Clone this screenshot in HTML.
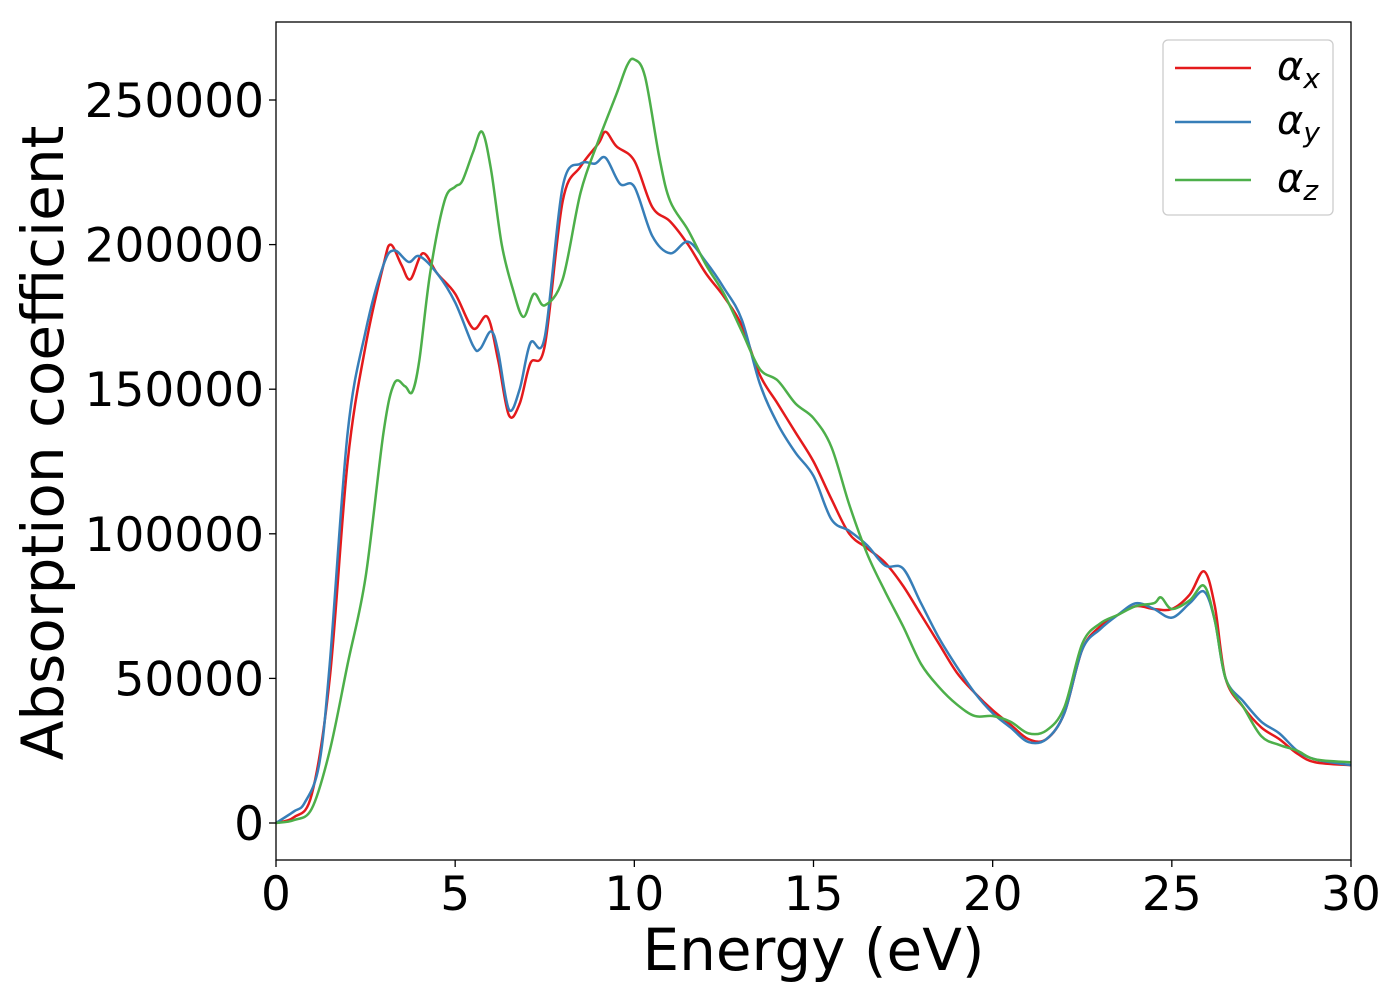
<!DOCTYPE html>
<html><head><meta charset="utf-8"><style>
html,body{margin:0;padding:0;background:#fff;}
svg{display:block;font-family:"DejaVu Sans","Liberation Sans",sans-serif;}
</style></head><body>
<svg id="chart" width="1400" height="1000" viewBox="0 0 1400 1000"></svg>
<script>
const energyX=[0,0.5,1.0,1.5,2.0,2.5,3.0,3.2,3.5,3.75,4.1,4.5,5.0,5.5,5.9,6.2,6.5,6.8,7.1,7.5,8.0,8.5,9.0,9.2,9.5,10.0,10.5,11,11.5,12,12.5,13,13.5,14,14.5,15,15.5,16,16.5,17,17.5,18,18.5,19,19.5,20,20.5,21,21.5,22,22.5,23,23.5,24,24.5,25,25.5,25.9,26.2,26.5,27,27.5,28,28.5,29,30];
const alphaX=[0,2000,10000,50000,125000,165000,193000,200000,193000,188000,197000,190000,183000,171000,175000,160000,141000,145000,159000,165000,215000,227000,235000,239000,234000,229000,213000,208000,200000,190000,182000,172000,155000,145000,135000,125000,112000,100000,95000,90000,82000,72000,62000,52000,45000,39000,34000,29000,29000,38000,60000,68000,72000,75000,74000,74000,79000,87000,75000,50000,40000,33000,29000,24000,21000,20000];
const energyY=[0,0.5,0.8,1.2,1.5,2.0,2.5,3.0,3.3,3.7,4.0,4.5,5.0,5.5,5.7,6.0,6.2,6.5,6.8,7.1,7.5,8.0,8.5,8.9,9.2,9.6,10,10.5,11,11.5,12,12.5,13,13.5,14,14.5,15,15.5,16,16.5,17,17.5,18,18.5,19,19.5,20,20.5,21,21.5,22,22.5,23,23.5,24,24.5,25,25.5,25.9,26.2,26.5,27,27.5,28,28.5,29,30];
const alphaY=[0,4000,7000,20000,55000,135000,170000,193000,198000,194000,196000,190000,180000,165000,164000,170000,163000,143000,150000,166000,168000,220000,228000,228000,230000,221000,220000,203000,197000,201000,194000,185000,174000,152000,138000,128000,120000,105000,101000,96000,89000,88000,76000,64000,54000,45000,38000,33000,28000,29000,38000,60000,67000,72000,76000,74000,71000,76000,80000,70000,50000,42000,35000,31000,25000,22000,20000];
const energyZ=[0,0.5,1.0,1.5,2.0,2.5,3.0,3.3,3.6,3.8,4.0,4.3,4.7,5.0,5.2,5.5,5.75,6.0,6.3,6.6,6.9,7.2,7.5,8.0,8.5,9.0,9.5,9.8,10.0,10.3,10.7,11,11.5,12,12.5,13,13.5,14,14.5,15,15.5,16,16.5,17,17.5,18,18.5,19,19.5,20,20.5,21,21.5,22,22.5,23,23.5,24,24.5,24.7,25,25.5,25.9,26.2,26.5,27,27.5,28,28.5,29,30];
const alphaZ=[0,1000,5000,25000,55000,85000,135000,152000,151000,149000,160000,190000,215000,220000,222000,232000,239000,226000,200000,185000,175000,183000,179000,188000,218000,236000,252000,262000,264000,258000,230000,215000,205000,193000,183000,170000,157000,153000,145000,140000,130000,110000,93000,80000,68000,55000,47000,41000,37000,37000,35000,31000,32000,40000,62000,69000,72000,75000,76000,78000,74000,77000,82000,70000,50000,40000,30000,27000,25000,22000,21000];
const xTicks=[0,5,10,15,20,25,30];
const yTicks=[0,50000,100000,150000,200000,250000];

const L=276,R=1351,T=22,B=860;
const sx=v=>L+v/30*(R-L);
const sy=v=>823-v*723/250000;
const svg=document.getElementById('chart');
const NS='http://www.w3.org/2000/svg';
function mk(tag,attrs){const e=document.createElementNS(NS,tag);for(const k in attrs)e.setAttribute(k,attrs[k]);svg.appendChild(e);return e;}

function smoothPath(xs,ys){
  const p=xs.map((x,i)=>[sx(x),sy(ys[i])]);
  let d=`M${p[0][0]},${p[0][1]}`;
  for(let i=0;i<p.length-1;i++){
    const p0=p[Math.max(0,i-1)],p1=p[i],p2=p[i+1],p3=p[Math.min(p.length-1,i+2)];
    const c1=[p1[0]+(p2[0]-p0[0])/6,p1[1]+(p2[1]-p0[1])/6];
    const c2=[p2[0]-(p3[0]-p1[0])/6,p2[1]-(p3[1]-p1[1])/6];
    d+=`C${c1[0]},${c1[1]} ${c2[0]},${c2[1]} ${p2[0]},${p2[1]}`;
  }
  return d;
}
const clip=mk('clipPath',{id:'pc'});
const cr=document.createElementNS(NS,'rect');
cr.setAttribute('x',L);cr.setAttribute('y',T);cr.setAttribute('width',R-L);cr.setAttribute('height',B-T);
clip.appendChild(cr);

const series=[[energyX,alphaX,'#e41a1c','series-alpha-x'],[energyY,alphaY,'#377eb8','series-alpha-y'],[energyZ,alphaZ,'#4daf4a','series-alpha-z']];
series.forEach(s=>{
  const e=mk('path',{d:smoothPath(s[0],s[1]),fill:'none',stroke:s[2],'stroke-width':2.5,'clip-path':'url(#pc)'});
  
  
});

const frame=mk('rect',{x:L,y:T,width:R-L,height:B-T,fill:'none',stroke:'#000','stroke-width':1.3});



xTicks.forEach(v=>{
  mk('line',{x1:sx(v),x2:sx(v),y1:B,y2:B+7,stroke:'#000','stroke-width':1.3});
  const t=mk('text',{x:sx(v),y:B+50,'font-size':47,'text-anchor':'middle',fill:'#000'});
  t.textContent=v;
  
  
});
yTicks.forEach(v=>{
  mk('line',{x1:L-7,x2:L,y1:sy(v),y2:sy(v),stroke:'#000','stroke-width':1.3});
  const t=mk('text',{x:L-12,y:sy(v)+17,'font-size':47,'text-anchor':'end',fill:'#000'});
  t.textContent=v;
  
  
});
const xt=mk('text',{x:(L+R)/2,y:970,'font-size':58,'text-anchor':'middle',fill:'#000'});
xt.textContent='Energy (eV)';


const yt=mk('text',{x:0,y:0,'font-size':58,'text-anchor':'middle',fill:'#000',transform:`translate(63,443) rotate(-90)`});
yt.textContent='Absorption coefficient';



const lg=mk('rect',{x:1163,y:40,width:170,height:175,rx:5,fill:'#fff',stroke:'#ccc','stroke-width':1.3});


const ly=[68,122,180],subs=['x','y','z'];
series.forEach((s,i)=>{
  const ln=mk('line',{x1:1175,x2:1251,y1:ly[i],y2:ly[i],stroke:s[2],'stroke-width':2.5});
  
  
  const t=mk('text',{x:1277,y:ly[i]+12,'font-size':40,fill:'#000','font-style':'italic'});
  
  
  t.textContent='α';
  const ts=document.createElementNS(NS,'tspan');
  ts.setAttribute('font-size',28);ts.setAttribute('dy',8);
  ts.textContent=subs[i];
  t.appendChild(ts);
});
</script>
</body></html>
